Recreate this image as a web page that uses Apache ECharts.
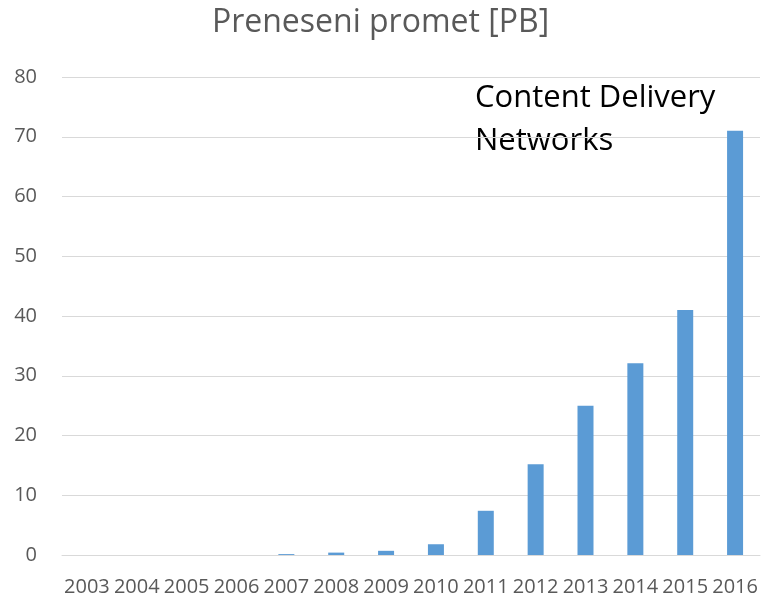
<!DOCTYPE html>
<html>
<head>
<meta charset="utf-8">
<script src="https://cdn.jsdelivr.net/npm/echarts@6/dist/echarts.min.js"></script>
<style>
  html, body { margin: 0; padding: 0; background: #fff; }
  #chart { width: 761px; height: 597px; }
</style>
</head>
<body>
<div id="chart"></div>
<script>
const years = ['2003', '2004', '2005', '2006', '2007', '2008', '2009', '2010',
  '2011', '2012', '2013', '2014', '2015', '2016']
const traffic = [0, 0, 0, 0, 0.15, 0.4, 0.7, 1.8, 7.4, 15.2, 25, 32.1, 41, 71]
const yTicks = { min: 0, max: 80, step: 10 }

const FONT = '"Open Sans", "Liberation Sans", sans-serif'

const chart = echarts.init(document.getElementById('chart'))

const option = {
  animation: false,
  title: {
    text: 'Preneseni promet [PB]',
    left: 'center',
    top: 2,
    textStyle: {
      fontFamily: FONT,
      fontSize: 32,
      fontWeight: 'normal',
      color: '#595959'
    }
  },
  grid: {
    left: 62,
    right: 1,
    top: 77,
    bottom: 42
  },
  xAxis: {
    type: 'category',
    data: years,
    axisLine: { lineStyle: { color: '#d9d9d9', width: 1 } },
    axisTick: { show: false },
    axisLabel: {
      color: '#595959',
      fontFamily: FONT,
      fontSize: 20,
      interval: 0,
      margin: 22
    }
  },
  yAxis: {
    type: 'value',
    min: yTicks.min,
    max: yTicks.max,
    interval: yTicks.step,
    axisLine: { show: false },
    axisTick: { show: false },
    axisLabel: {
      color: '#595959',
      fontFamily: FONT,
      fontSize: 20,
      margin: 25
    },
    splitLine: { lineStyle: { color: '#d9d9d9', width: 1 } }
  },
  graphic: [{
    type: 'text',
    left: 475,
    top: 77,
    style: {
      text: 'Content Delivery\nNetworks',
      fontFamily: FONT,
      fontSize: 31,
      lineHeight: 43,
      fill: '#000'
    }
  }],
  series: [{
    type: 'bar',
    data: traffic,
    barWidth: 16,
    itemStyle: { color: '#5b9bd5' }
  }]
}

chart.setOption(option)
</script>
</body>
</html>
